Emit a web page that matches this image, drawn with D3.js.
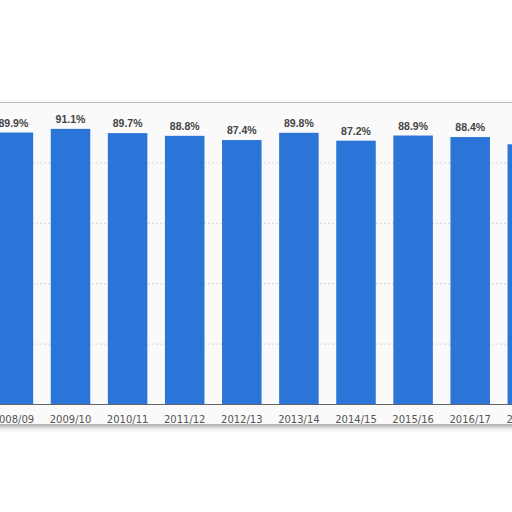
<!DOCTYPE html>
<html>
<head>
<meta charset="utf-8">
<title>Bar chart</title>
<script src="https://cdn.jsdelivr.net/npm/d3@7"></script>
<style>
html, body { margin: 0; padding: 0; background: #ffffff; }
#chart { width: 512px; height: 512px; overflow: hidden; }
</style>
</head>
<body>
<div id="chart"></div>
<script>
// data
const seasons = ["2008/09", "2009/10", "2010/11", "2011/12", "2012/13",
                 "2013/14", "2014/15", "2015/16", "2016/17", "2017/18"];
const shares = [89.9, 91.1, 89.7, 88.8, 87.4, 89.8, 87.2, 88.9, 88.4, 86.0];
const gridTicks = [0, 20, 40, 60, 80, 100];

const W = 512, H = 512;
const svg = d3.select("#chart").append("svg")
    .attr("width", W).attr("height", H);

const defs = svg.append("defs");
const f = defs.append("filter").attr("id", "shadow")
    .attr("x", "-10%").attr("y", "-10%").attr("width", "120%").attr("height", "130%");
f.append("feDropShadow").attr("dx", 0).attr("dy", 3)
    .attr("stdDeviation", 2.5).attr("flood-color", "#000").attr("flood-opacity", 0.35);

// the chart is cropped: the outer bars run past the window edges
const step = 57.1;
const x0 = 13.4 - step / 2;
const x = d3.scaleBand()
    .domain(seasons)
    .range([x0, x0 + step * seasons.length])
    .paddingInner(0.308)
    .paddingOuter(0.154);

const y = d3.scaleLinear().domain([0, 100]).range([404, 102]);

// card
svg.append("rect")
    .attr("x", -10).attr("y", 101)
    .attr("width", W + 20).attr("height", 323)
    .attr("fill", "#fafafa")
    .attr("filter", "url(#shadow)");

// grid
const grid = svg.append("g")
    .call(d3.axisLeft(y).tickValues(gridTicks).tickSize(-W).tickFormat(""));
grid.select(".domain").remove();
grid.selectAll(".tick line")
    .attr("stroke", d => d === 100 ? "#bbb" : "#d4d4d4")
    .attr("stroke-dasharray", d => d === 100 ? null : "2,2");

// bars
svg.append("g").selectAll("rect")
    .data(shares)
    .join("rect")
    .attr("x", (d, i) => x(seasons[i]))
    .attr("y", d => y(d))
    .attr("width", x.bandwidth())
    .attr("height", d => y(0) - y(d))
    .attr("fill", "#2b74d8");

// value labels
svg.append("g").selectAll("text")
    .data(shares)
    .join("text")
    .attr("x", (d, i) => x(seasons[i]) + x.bandwidth() / 2)
    .attr("y", d => y(d) - 6)
    .attr("text-anchor", "middle")
    .attr("font-family", "Liberation Sans, Arial, sans-serif")
    .attr("font-weight", "bold")
    .attr("font-size", "10.5px")
    .attr("fill", "#444")
    .text(d => d.toFixed(1) + "%");

// x axis
const xAxis = svg.append("g")
    .attr("transform", `translate(0,${y(0)})`)
    .call(d3.axisBottom(x).tickSize(0).tickPadding(12));
xAxis.select(".domain").attr("stroke", "#666").attr("stroke-width", 1.2);
xAxis.selectAll("text")
    .attr("font-family", "DejaVu Sans, Verdana, sans-serif")
    .attr("font-size", "10px")
    .attr("fill", "#555");
</script>
</body>
</html>
